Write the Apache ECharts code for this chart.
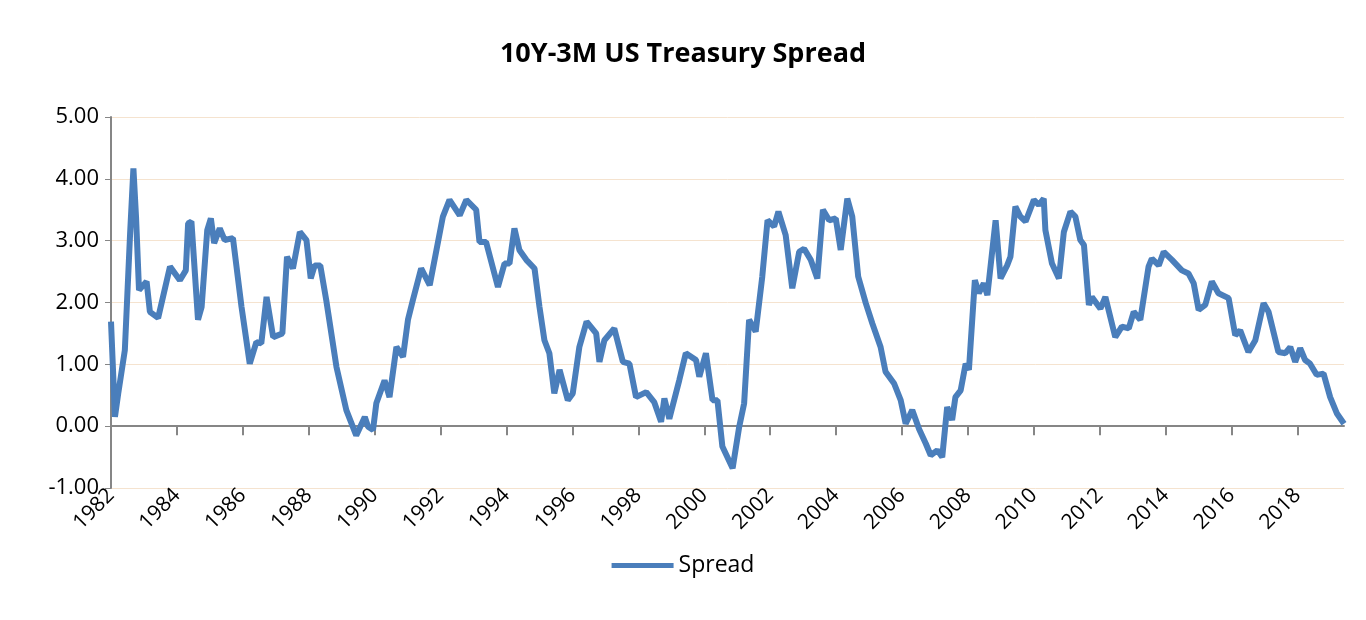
<!DOCTYPE html>
<html>
<head>
<meta charset="utf-8">
<script src="https://cdn.jsdelivr.net/npm/echarts@6/dist/echarts.min.js"></script>
<style>
  html, body { margin: 0; padding: 0; background: #fff; }
  #chart { width: 1366px; height: 620px; }
</style>
</head>
<body>
<div id="chart"></div>
<script>
// values (decimal year, spread in %)
var years = [
    1982.0, 1982.12, 1982.22, 1982.42, 1982.58, 1982.68, 1982.76, 1982.85, 1983.08, 1983.18,
    1983.43, 1983.79, 1984.09, 1984.27, 1984.34, 1984.44, 1984.64, 1984.75, 1984.92, 1985.03,
    1985.13, 1985.3, 1985.45, 1985.7, 1985.96, 1986.21, 1986.41, 1986.56, 1986.72, 1986.92,
    1987.2, 1987.34, 1987.52, 1987.73, 1987.93, 1988.06, 1988.18, 1988.35, 1988.53, 1988.84,
    1989.14, 1989.44, 1989.7, 1989.8, 1989.95, 1990.05, 1990.3, 1990.45, 1990.66, 1990.86,
    1991.01, 1991.16, 1991.41, 1991.67, 1992.07, 1992.27, 1992.58, 1992.78, 1993.08, 1993.18,
    1993.38, 1993.74, 1993.94, 1994.09, 1994.24, 1994.39, 1994.6, 1994.85, 1995.0, 1995.15,
    1995.3, 1995.45, 1995.61, 1995.86, 1996.01, 1996.21, 1996.43, 1996.72, 1996.82, 1996.97,
    1997.27, 1997.53, 1997.73, 1997.93, 1998.24, 1998.48, 1998.69, 1998.79, 1998.94, 1999.24,
    1999.44, 1999.75, 1999.85, 2000.05, 2000.25, 2000.4, 2000.55, 2000.86, 2001.06, 2001.21,
    2001.36, 2001.56, 2001.76, 2001.92, 2002.12, 2002.25, 2002.47, 2002.67, 2002.88, 2003.03,
    2003.23, 2003.43, 2003.6, 2003.79, 2003.99, 2004.14, 2004.34, 2004.49, 2004.67, 2004.9,
    2005.1, 2005.35, 2005.5, 2005.76, 2005.96, 2006.11, 2006.31, 2006.52, 2006.72, 2006.87,
    2007.07, 2007.22, 2007.37, 2007.52, 2007.62, 2007.78, 2007.93, 2008.03, 2008.21, 2008.33,
    2008.48, 2008.59, 2008.84, 2008.99, 2009.19, 2009.29, 2009.44, 2009.59, 2009.75, 2010.0,
    2010.15, 2010.3, 2010.35, 2010.55, 2010.76, 2010.91, 2011.11, 2011.26, 2011.41, 2011.52,
    2011.67, 2011.76, 2012.02, 2012.17, 2012.47, 2012.67, 2012.88, 2013.03, 2013.23, 2013.48,
    2013.58, 2013.79, 2013.94, 2014.19, 2014.49, 2014.69, 2014.85, 2015.0, 2015.2, 2015.4,
    2015.6, 2015.91, 2016.11, 2016.26, 2016.51, 2016.72, 2016.97, 2017.12, 2017.42, 2017.63,
    2017.78, 2017.93, 2018.08, 2018.23, 2018.38, 2018.58, 2018.79, 2018.99, 2019.19, 2019.41
];
var spread = [
    1.69, 0.15, 0.53, 1.23, 3.12, 4.17, 3.38, 2.2, 2.34, 1.85,
    1.75, 2.58, 2.36, 2.52, 3.28, 3.31, 1.72, 1.93, 3.17, 3.36,
    2.96, 3.2, 3.01, 3.04, 1.93, 1.01, 1.36, 1.34, 2.09, 1.44,
    1.5, 2.74, 2.55, 3.14, 3.01, 2.39, 2.6, 2.6, 2.04, 0.96,
    0.26, -0.15, 0.15, -0.01, -0.06, 0.37, 0.74, 0.47, 1.28, 1.12,
    1.72, 2.04, 2.55, 2.28, 3.39, 3.66, 3.41, 3.66, 3.5, 2.98,
    2.98, 2.25, 2.63, 2.63, 3.2, 2.85, 2.69, 2.55, 1.93, 1.39,
    1.18, 0.53, 0.91, 0.42, 0.53, 1.28, 1.69, 1.5, 1.04, 1.39,
    1.58, 1.04, 1.01, 0.47, 0.55, 0.39, 0.07, 0.45, 0.12, 0.74,
    1.18, 1.07, 0.8, 1.18, 0.42, 0.42, -0.33, -0.68, -0.01, 0.37,
    1.72, 1.53, 2.42, 3.33, 3.23, 3.47, 3.09, 2.23, 2.82, 2.87,
    2.69, 2.39, 3.5, 3.33, 3.36, 2.85, 3.68, 3.39, 2.42, 1.99,
    1.66, 1.28, 0.88, 0.69, 0.42, 0.04, 0.26, -0.05, -0.28, -0.47,
    -0.39, -0.5, 0.31, 0.1, 0.47, 0.58, 1.01, 0.91, 2.36, 2.15,
    2.31, 2.12, 3.33, 2.39, 2.6, 2.74, 3.55, 3.39, 3.31, 3.66,
    3.58, 3.68, 3.17, 2.63, 2.39, 3.14, 3.47, 3.39, 3.01, 2.93,
    1.96, 2.09, 1.9, 2.09, 1.44, 1.61, 1.58, 1.85, 1.72, 2.58,
    2.71, 2.6, 2.82, 2.69, 2.52, 2.47, 2.31, 1.88, 1.96, 2.34,
    2.15, 2.07, 1.47, 1.55, 1.2, 1.39, 1.99, 1.85, 1.2, 1.18,
    1.28, 1.04, 1.26, 1.07, 1.01, 0.83, 0.85, 0.47, 0.21, 0.04
];
var yTicks = [-1, 0, 1, 2, 3, 4, 5];

var chart = echarts.init(document.getElementById('chart'));
var pts = years.map(function (y, i) { return [y, spread[i]]; });

var opt = {
    animation: false,
    title: {
        text: '10Y-3M US Treasury Spread',
        left: 'center',
        top: 36,
        textStyle: { fontFamily: 'Open Sans', fontWeight: 'bold', fontSize: 27, color: '#000' }
    },
    legend: {
        bottom: 38,
        left: 'center',
        itemWidth: 62,
        itemHeight: 5,
        icon: 'rect',
        textStyle: { fontFamily: 'Open Sans', fontSize: 23, color: '#000' },
        data: ['Spread']
    },
    grid: { left: 111, right: 22, top: 117, bottom: 132 },
    xAxis: {
        type: 'value',
        min: 1982,
        max: 2019.41,
        interval: 2,
        splitLine: { show: false },
        axisLine: { onZero: true, lineStyle: { color: '#868686', width: 2 } },
        axisTick: { show: true, length: 9, lineStyle: { color: '#868686', width: 2 } },
        axisLabel: {
            rotate: 45,
            margin: 4,
            showMaxLabel: false,
            fontFamily: 'Open Sans',
            fontSize: 21,
            color: '#000',
            formatter: function (v) { return String(Math.round(v)); }
        }
    },
    yAxis: {
        type: 'value',
        min: yTicks[0],
        max: yTicks[yTicks.length - 1],
        interval: 1,
        axisLine: { show: true, lineStyle: { color: '#868686', width: 2 } },
        axisTick: { show: true, length: 6, lineStyle: { color: '#868686' } },
        splitLine: { lineStyle: { color: '#f5e3cf', width: 1 } },
        axisLabel: {
            fontFamily: 'Open Sans',
            fontSize: 22,
            color: '#000',
            margin: 12,
            formatter: function (v) { return v.toFixed(2); }
        }
    },
    series: [{
        name: 'Spread',
        type: 'line',
        data: pts,
        showSymbol: false,
        color: '#4a7ebb',
        lineStyle: { width: 6, color: '#4a7ebb' }
    }]
};
chart.setOption(opt);
</script>
</body>
</html>
